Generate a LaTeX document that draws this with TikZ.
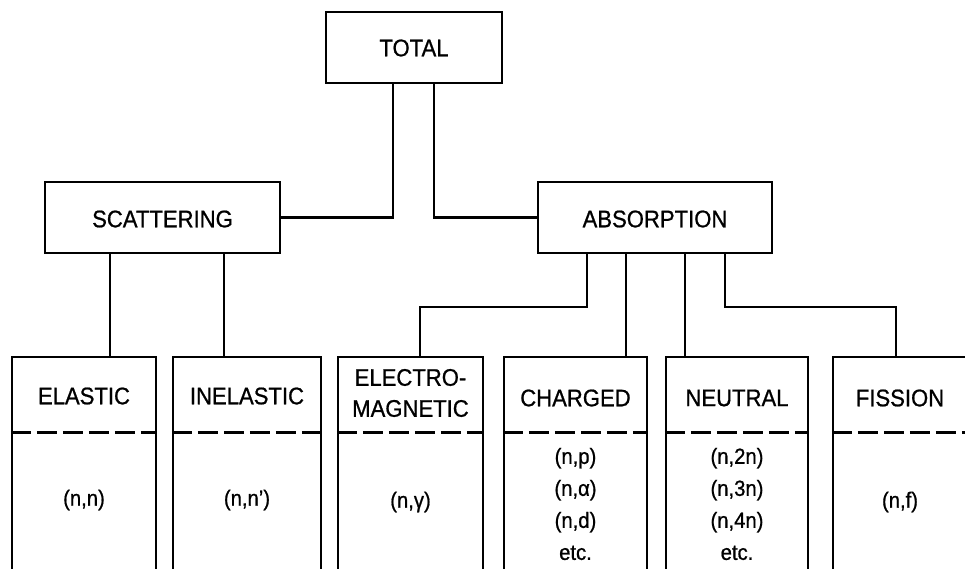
\documentclass[tikz,border=0pt]{standalone}
\usepackage{fontspec}
\setmainfont{Liberation Sans}[FakeStretch=0.92,FakeBold=0.8]
\begin{document}
\begin{tikzpicture}[x=1pt,y=-1pt,
  box/.style={draw, line width=2.4pt, inner sep=0pt},
  openbox/.style={draw, line width=2.2pt, inner sep=0pt, minimum height=224pt, anchor=north},
  conn/.style={line width=2.2pt},
  dashline/.style={line width=3pt, dash pattern=on 20pt off 6pt},
  lbl/.style={font=\fontsize{24}{28}\selectfont, inner sep=0pt, align=center},
  sub/.style={font=\fontsize{22}{32}\selectfont, inner sep=0pt, align=center}]
\useasboundingbox (0,0) rectangle (965,568);
\clip (0,0) rectangle (965,568);
\fill[white] (0,0) rectangle (965,568);
% top level
\node[box, minimum width=176pt, minimum height=71pt] (total) at (414,47.5) {};
\node[lbl] (totalt) at (414,48) {TOTAL};
\node[box, minimum width=235pt, minimum height=71pt] (scat) at (162.5,217.5) {};
\node[lbl] (scatt) at (162.5,219) {SCATTERING};
\node[box, minimum width=234pt, minimum height=71pt] (abs) at (655,217.5) {};
\node[lbl] (abst) at (655,219) {ABSORPTION};
% bottom boxes
\node[openbox, minimum width=144pt] (elastic) at (84,356) {};
\node[openbox, minimum width=148pt] (inel) at (247,356) {};
\node[openbox, minimum width=145pt] (electro) at (410.5,356) {};
\node[openbox, minimum width=143pt] (charged) at (575.5,356) {};
\node[openbox, minimum width=142pt] (neutral) at (737,356) {};
\node[openbox, minimum width=142pt] (fission) at (904,356) {};
% dashed separators
\foreach \b in {elastic,inel,electro,charged,neutral,fission}
  \draw[dashline] (\b.west |- 0,432) -- (\b.east |- 0,432);
% headings
\node[lbl] (elh) at (84,396) {ELASTIC};
\node[lbl] (inh) at (247,396) {INELASTIC};
\node[lbl, font=\fontsize{24}{31}\selectfont] (emh) at (410.5,393) {ELECTRO-\\MAGNETIC};
\node[lbl] (chh) at (575.5,398) {CHARGED};
\node[lbl] (neh) at (737,398) {NEUTRAL};
\node[lbl] (fih) at (900,398) {FISSION};
% reactions
\node[sub] (els) at (84,500) {(n,n)};
\node[sub] (ins) at (247,500) {(n,n')};
\node[sub] (ems) at (410.5,502) {(n,γ)};
\node[sub] (chs) at (575.5,504) {(n,p)\\(n,α)\\(n,d)\\etc.};
\node[sub] (nes) at (737,504) {(n,2n)\\(n,3n)\\(n,4n)\\etc.};
\node[sub] (fis) at (900,502) {(n,f)};
% connectors
\draw[conn] ([xshift=-21pt]total.south) |- (scat.east);
\draw[conn] ([xshift=20pt]total.south) |- (abs.west);
\draw[conn] ([xshift=-52.5pt]scat.south) -- ([xshift=-52.5pt]scat.south |- elastic.north);
\draw[conn] ([xshift=61.5pt]scat.south) -- ([xshift=61.5pt]scat.south |- inel.north);
\draw[conn] ([xshift=-68pt]abs.south) -- ++(0,53) -| ([xshift=9.5pt]electro.north);
\draw[conn] ([xshift=-29pt]abs.south) -- ([xshift=-29pt]abs.south |- charged.north);
\draw[conn] ([xshift=30pt]abs.south) -- ([xshift=30pt]abs.south |- neutral.north);
\draw[conn] ([xshift=70pt]abs.south) -- ++(0,53) -| ([xshift=-8pt]fission.north);
\end{tikzpicture}
\end{document}
